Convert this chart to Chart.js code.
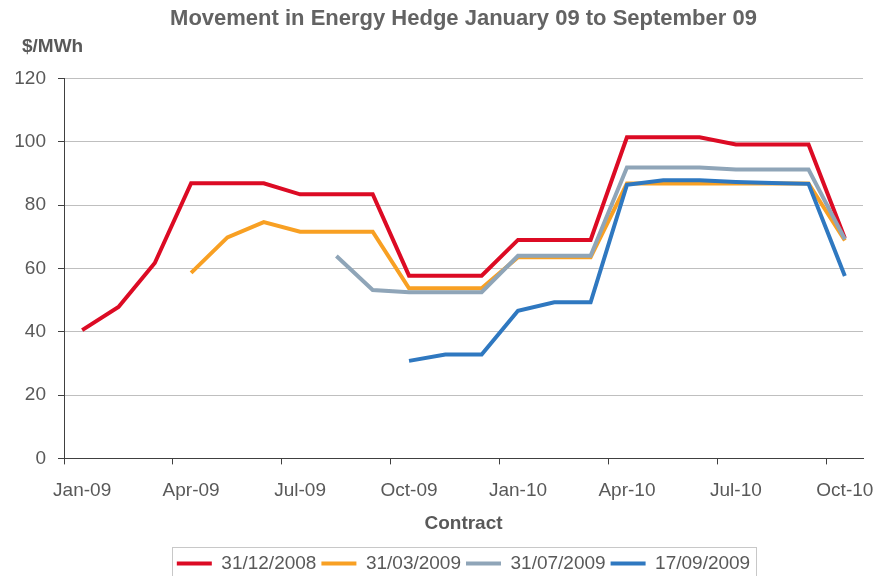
<!DOCTYPE html>
<html>
<head>
<meta charset="utf-8">
<script src="https://cdn.jsdelivr.net/npm/chart.js@4/dist/chart.umd.min.js"></script>
<style>
  html, body { margin: 0; padding: 0; background: #fff; }
  #wrap { width: 892px; height: 576px; }
</style>
</head>
<body>
<div id="wrap"><canvas id="hedgeChart" width="892" height="576"></canvas></div>
<script>
// contract months on the x axis
var months = ["Jan-09", "Feb-09", "Mar-09", "Apr-09", "May-09", "Jun-09", "Jul-09", "Aug-09", "Sep-09",
              "Oct-09", "Nov-09", "Dec-09", "Jan-10", "Feb-10", "Mar-10", "Apr-10", "May-10", "Jun-10",
              "Jul-10", "Aug-10", "Sep-10", "Oct-10"];

// hedge price curves ($/MWh) at each valuation date
var dec2008 = [40.5, 47.8, 61.7, 86.9, 86.9, 86.9, 83.4, 83.4, 83.4, 57.7, 57.7, 57.7,
               69, 69, 69, 101.4, 101.4, 101.4, 99.1, 99.1, 99.1, 69.5];
var mar2009 = [null, null, null, 58.6, 69.8, 74.6, 71.6, 71.6, 71.6, 53.7, 53.7, 53.7,
               63.5, 63.5, 63.5, 86.8, 86.8, 86.8, 86.8, 86.8, 86.8, 68.8];
var jul2009 = [null, null, null, null, null, null, null, 63.9, 53.2, 52.5, 52.5, 52.5,
               64, 64, 64, 91.9, 91.9, 91.9, 91.2, 91.2, 91.2, 69.2];
var sep2009 = [null, null, null, null, null, null, null, null, null, 30.8, 32.8, 32.8,
               46.6, 49.3, 49.3, 86.4, 87.8, 87.8, 87.3, 87, 86.7, 57.6];

var seriesNames = ["31/12/2008", "31/03/2009", "31/07/2009", "17/09/2009"];
var yTicks = [0, 20, 40, 60, 80, 100, 120];
var unitLabel = "$/MWh";

var textGrey = "#595959";

function line(name, data, colour, order) {
    return {
        label: name,
        data: data,
        borderColor: colour,
        backgroundColor: colour,
        borderWidth: 4,
        pointRadius: 0,
        tension: 0,
        spanGaps: false,
        order: order
    };
}

// excel centres the title and legend over the plot, not the whole canvas
// also: unit label above the y axis and a box round the legend
var extras = {
    id: "extras",
    afterLayout: function (chart) {
        var ca = chart.chartArea;
        [chart.titleBlock, chart.legend].forEach(function (b) {
            if (!b) return;
            b.left = ca.left;
            b.right = ca.right;
            b.width = ca.right - ca.left;
        });
    },
    afterDraw: function (chart) {
        var c = chart.ctx;
        c.save();
        c.fillStyle = textGrey;
        c.font = "bold 19px 'Liberation Sans', Arial, sans-serif";
        c.textBaseline = "middle";
        c.textAlign = "left";
        c.fillText(unitLabel, 22, chart.chartArea.top - 32);

        var lg = chart.legend;
        if (lg && lg.legendHitBoxes.length) {
            var boxes = lg.legendHitBoxes;
            var first = boxes[0], last = boxes[boxes.length - 1];
            var x1 = first.left - 5, x2 = last.left + last.width + 6;
            var y1 = first.top - 7, y2 = chart.height + 10;
            c.strokeStyle = "#c8c8c8";
            c.lineWidth = 1;
            c.strokeRect(Math.round(x1) + 0.5, Math.round(y1) + 0.5, Math.round(x2 - x1), Math.round(y2 - y1));
        }
        c.restore();
    }
};

Chart.defaults.font.family = "'Liberation Sans', Arial, sans-serif";
Chart.defaults.color = textGrey;

var ctx = document.getElementById("hedgeChart").getContext("2d");
var chart = new Chart(ctx, {
    type: "line",
    data: {
        labels: months,
        datasets: [
            line(seriesNames[0], dec2008, "#dc0b24", 4),
            line(seriesNames[1], mar2009, "#f8a023", 3),
            line(seriesNames[2], jul2009, "#8fa5b8", 2),
            line(seriesNames[3], sep2009, "#2f78c0", 1)
        ]
    },
    options: {
        responsive: false,
        animation: false,
        layout: { padding: { left: 0, right: 29, top: 0, bottom: -7 } },
        plugins: {
            title: {
                display: true,
                text: "Movement in Energy Hedge January 09 to September 09",
                font: { size: 22, weight: "bold" },
                color: "#636363",
                padding: { top: 6, bottom: 46 }
            },
            legend: {
                position: "bottom",
                labels: {
                    boxWidth: 35,
                    boxHeight: 4,
                    padding: 5,
                    font: { size: 19 },
                    color: textGrey,
                    generateLabels: function (ch) {
                        var items = Chart.defaults.plugins.legend.labels.generateLabels(ch);
                        items.forEach(function (it) { it.lineWidth = 0; });
                        return items;
                    },
                    sort: function (a, b) { return a.datasetIndex - b.datasetIndex; }
                }
            },
            tooltip: { enabled: false }
        },
        scales: {
            x: {
                offset: true,
                afterFit: function (s) { s.height = s.height - 14; },
                grid: {
                    offset: true,
                    drawOnChartArea: false,
                    tickLength: 6,
                    color: function (c) { return (c.index % 3 === 0 && c.index < months.length) ? "#404040" : "rgba(0,0,0,0)"; },
                    tickColor: function (c) { return (c.index % 3 === 0 && c.index < months.length) ? "#404040" : "rgba(0,0,0,0)"; }
                },
                border: { color: "#404040", width: 1 },
                ticks: {
                    autoSkip: false,
                    maxRotation: 0,
                    padding: 15,
                    font: { size: 19 },
                    color: textGrey,
                    callback: function (v, i) { return i % 3 === 0 ? months[i] : ""; }
                },
                title: {
                    display: true,
                    text: "Contract",
                    font: { size: 19, weight: "bold" },
                    color: textGrey,
                    padding: { top: 9, bottom: 14 }
                }
            },
            y: {
                min: 0,
                max: 120,
                afterFit: function (s) { s.width = 64; },
                afterBuildTicks: function (s) { s.ticks = yTicks.map(function (v) { return { value: v }; }); },
                grid: {
                    color: "#bfbfbf",
                    borderDash: [6, 4],
                    tickLength: 6,
                    tickColor: "#404040",
                    tickBorderDash: [],
                    lineWidth: 1
                },
                border: { color: "#404040", width: 1 },
                ticks: {
                    padding: 12,
                    font: { size: 19 },
                    color: textGrey
                }
            }
        }
    },
    plugins: [extras]
});
</script>
</body>
</html>
